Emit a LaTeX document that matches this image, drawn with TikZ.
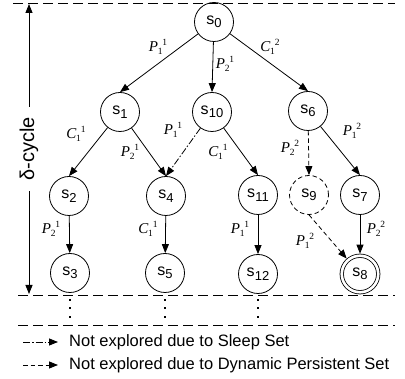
\documentclass[tikz,border=0pt]{standalone}
\usepackage{fontspec}
\setmainfont{Liberation Sans}
\newfontfamily\seriffam{Liberation Serif}
\usetikzlibrary{arrows.meta}
\newcommand{\sn}[1]{{\fontsize{16}{16}\selectfont s}\kern0.2pt\raisebox{-3.5pt}{\fontsize{13}{13}\selectfont #1}}
\newcommand{\el}[3]{{\seriffam\fontsize{15}{15}\selectfont\itshape #1}\kern-0.3pt\raisebox{-3pt}{\seriffam\fontsize{9.5}{9.5}\selectfont #2}\kern-0.2pt\raisebox{6pt}{\seriffam\fontsize{9.5}{9.5}\selectfont #3}}
\begin{document}
\begin{tikzpicture}[x=1pt,y=-1pt,
  st/.style={circle,draw,line width=0.8pt,minimum size=39pt,inner sep=0pt},
  tip/.tip={Triangle[length=9pt,width=7pt]},
  arr/.style={-tip,line width=0.8pt},
  dsh/.style={dash pattern=on 4.5pt off 3pt},
  dshdot/.style={dash pattern=on 7pt off 2pt on 1.5pt off 2pt},
  sep/.style={line width=0.8pt,dash pattern=on 10pt off 5pt},
  lab/.style={inner sep=0pt},
  dotn/.style={rectangle,fill,inner sep=0pt,minimum size=2.6pt}]
\useasboundingbox (0,0) rectangle (405,379);
% separators
\coordinate (t1) at (13,3);   \coordinate (t2) at (395,3);
\coordinate (m1) at (18,295); \coordinate (m2) at (395,295);
\coordinate (b1) at (18,325); \coordinate (b2) at (395,325);
\draw[sep] (t1) -- (t2);
\draw[sep] (m1) -- (m2);
\draw[sep] (b1) -- (b2);
% delta cycle
\coordinate (ctop) at (29,4);
\coordinate (cbot) at (29,294);
\draw[tip-tip,line width=0.8pt] (ctop) -- (cbot)
  node[midway,fill=white,rotate=90,inner xsep=10pt,inner ysep=1pt] (dc) {\fontsize{20}{20}\selectfont δ-cycle};
% states
\node[st] (s0) at (214,22) {\sn{0}};
\node[st] (s1) at (120,112) {\sn{1}};
\node[st] (s10) at (212,112) {\sn{10}};
\node[st] (s6) at (308,111) {\sn{6}};
\node[st] (s2) at (69,196) {\sn{2}};
\node[st] (s4) at (166,196) {\sn{4}};
\node[st] (s11) at (258,195) {\sn{11}};
\node[st,dsh] (s9) at (309,195) {\sn{9}};
\node[st] (s7) at (360,195) {\sn{7}};
\node[st] (s3) at (70,273) {\sn{3}};
\node[st] (s5) at (165,273) {\sn{5}};
\node[st] (s12) at (258,274) {\sn{12}};
\node[st,minimum size=36.5pt,double,double distance=2.6pt,outer sep=2.1pt] (s8) at (360,274) {\sn{8}};
% edges
\draw[arr] (s0) -- (s1.north);
\draw[arr] (s0) -- (s10.north);
\draw[arr] (s0) -- (s6.north);
\draw[arr] (s1) -- (s2.north);
\draw[arr] (s1) -- (s4.north);
\draw[arr,dshdot] (s10) -- (s4.north);
\draw[arr] (s10) -- (s11.north);
\draw[arr,dsh] (s6) -- (s9.north);
\draw[arr] (s6) -- (s7.north);
\draw[arr] (s2) -- (s3);
\draw[arr] (s4) -- (s5);
\draw[arr] (s11) -- (s12);
\draw[arr] (s7) -- (s8);
\draw[arr,dsh] (s9.south) -- (s8);
% edge labels
\node[lab] (l1) at (158,47) {\el{P}{1}{1}};
\node[lab] (l2) at (225,64) {\el{P}{2}{1}};
\node[lab] (l3) at (270,47) {\el{C}{1}{2}};
\node[lab] (l4) at (76,134) {\el{C}{1}{1}};
\node[lab] (l5) at (130,152) {\el{P}{2}{1}};
\node[lab] (l6) at (173,130) {\el{P}{1}{1}};
\node[lab] (l7) at (218,152) {\el{C}{1}{1}};
\node[lab] (l8) at (290,148) {\el{P}{2}{2}};
\node[lab] (l9) at (352,131) {\el{P}{1}{2}};
\node[lab] (l10) at (51,229) {\el{P}{2}{1}};
\node[lab] (l11) at (148,229) {\el{C}{1}{1}};
\node[lab] (l12) at (240,229) {\el{P}{1}{1}};
\node[lab] (l13) at (305,241) {\el{P}{1}{2}};
\node[lab] (l14) at (376,229) {\el{P}{2}{2}};
% dots
\foreach \x/\n in {70/a,165/b,258/c}{
  \node[dotn] (d1\n) at (\x,300) {};
  \node[dotn] (d2\n) at (\x,308) {};
  \node[dotn] (d3\n) at (\x,317) {};
}
% legend
\coordinate (la1) at (23,342); \coordinate (la2) at (58,342);
\coordinate (lb1) at (23,365); \coordinate (lb2) at (58,365);
\draw[arr,dshdot] (la1) -- (la2);
\draw[arr,dsh] (lb1) -- (lb2);
\node[anchor=west,inner sep=0pt] (t1) at (69,342) {\fontsize{16.5}{16.5}\selectfont Not explored due to Sleep Set};
\node[anchor=west,inner sep=0pt] (t2) at (69,365) {\fontsize{16.5}{16.5}\selectfont Not explored due to Dynamic Persistent Set};
\end{tikzpicture}
\end{document}
